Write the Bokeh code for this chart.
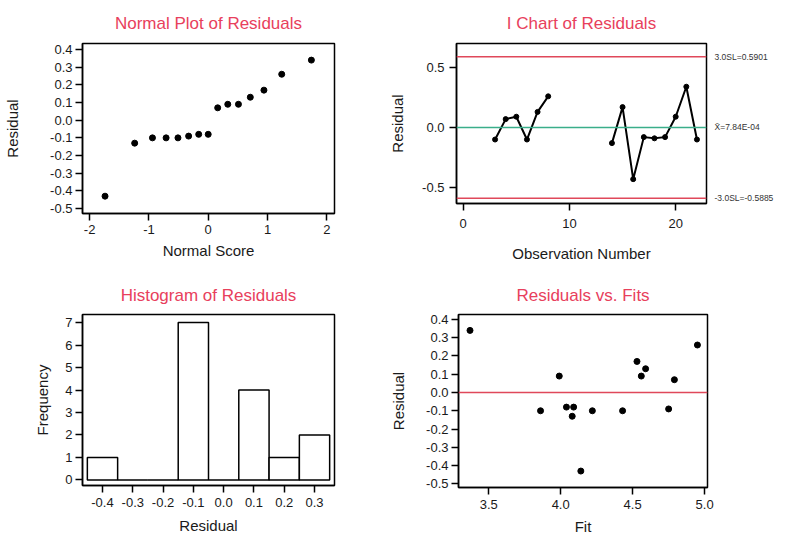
from bokeh.plotting import figure
from bokeh.layouts import row, column
from bokeh.models import Range1d, FixedTicker, LinearAxis, Span, PrintfTickFormatter, ColumnDataSource
from bokeh.embed import file_html
from bokeh.resources import INLINE

nan = float("nan")

# ---------------- data ----------------
# Normal plot of residuals
normal_scores = [-1.74, -1.24, -0.94, -0.71, -0.51, -0.33, -0.16, 0.0,
                 0.16, 0.33, 0.51, 0.71, 0.94, 1.24, 1.74]
sorted_residuals = [-0.43, -0.13, -0.10, -0.10, -0.10, -0.09, -0.08, -0.08,
                    0.07, 0.09, 0.09, 0.13, 0.17, 0.26, 0.34]

# I chart of residuals
obs_number = [1, 2, 3, 4, 5, 6, 7, 8, 9, 10, 11, 12, 13, 14, 15, 16, 17, 18, 19, 20, 21, 22]
obs_residual = [nan, nan, -0.10, 0.07, 0.09, -0.10, 0.13, 0.26, nan, nan, nan, nan, nan,
                -0.13, 0.17, -0.43, -0.08, -0.09, -0.08, 0.09, 0.34, -0.10]
ucl = 0.5901
center = 7.84e-4
lcl = -0.5885
limit_labels = {ucl: "3.0SL=0.5901", center: "X\u0304=7.84E-04", lcl: "-3.0SL=-0.5885"}

# Histogram of residuals
bin_midpoints = [-0.4, -0.3, -0.2, -0.1, 0.0, 0.1, 0.2, 0.3]
frequencies = [1, 0, 0, 7, 0, 4, 1, 2]
bin_width = 0.1

# Residuals vs fits
fit_values = [3.37, 3.86, 3.99, 4.04, 4.08, 4.09, 4.14, 4.22, 4.43, 4.53, 4.56, 4.59, 4.75, 4.79, 4.95]
fit_residuals = [0.34, -0.10, 0.09, -0.08, -0.13, -0.08, -0.43, -0.10, -0.10, 0.17, 0.09, 0.13,
                 -0.09, 0.07, 0.26]

# tick lists
resid_ticks = [-0.5, -0.4, -0.3, -0.2, -0.1, 0.0, 0.1, 0.2, 0.3, 0.4]
normal_ticks = [-2, -1, 0, 1, 2]
ichart_yticks = [-0.5, 0.0, 0.5]
ichart_xticks = [0, 10, 20]
hist_yticks = [0, 1, 2, 3, 4, 5, 6, 7]
hist_xticks = [-0.4, -0.3, -0.2, -0.1, 0.0, 0.1, 0.2, 0.3]
fit_ticks = [3.5, 4.0, 4.5, 5.0]

# ---------------- style ----------------
FONT = "Liberation Sans"
TITLE_COLOR = "#e8405c"
RED = "#e0485a"
GREEN = "#3aae8a"
TXT = "#1a1a1a"


def make_fig(title, frame, borders, xr, yr, xlabel, ylabel, xticks, yticks,
             xfmt, yfmt, xstand, ystand, title_standoff):
    p = figure(frame_width=frame[0], frame_height=frame[1],
               x_range=Range1d(*xr), y_range=Range1d(*yr),
               output_backend="svg", toolbar_location=None,
               min_border_left=borders[0], min_border_right=borders[1],
               min_border_top=borders[2], min_border_bottom=borders[3])
    p.title.text = title
    p.title.align = "center"
    p.title.text_color = TITLE_COLOR
    p.title.text_font = FONT
    p.title.text_font_size = "17px"
    p.title.text_font_style = "normal"
    p.title.standoff = title_standoff
    p.grid.visible = False
    p.outline_line_color = "black"
    p.outline_line_width = 1.5
    p.background_fill_color = "white"
    p.border_fill_color = "white"
    p.xaxis.ticker = FixedTicker(ticks=xticks)
    p.yaxis.ticker = FixedTicker(ticks=yticks)
    p.xaxis.formatter = PrintfTickFormatter(format=xfmt)
    p.yaxis.formatter = PrintfTickFormatter(format=yfmt)
    p.xaxis.axis_label = xlabel
    p.yaxis.axis_label = ylabel
    p.xaxis.major_label_standoff = xstand[0]
    p.xaxis.axis_label_standoff = xstand[1]
    p.yaxis.major_label_standoff = ystand[0]
    p.yaxis.axis_label_standoff = ystand[1]
    for ax in p.axis:
        ax.major_tick_out = 7
        ax.major_tick_in = 0
        ax.minor_tick_out = 0
        ax.minor_tick_in = 0
        ax.axis_line_color = "black"
        ax.axis_line_width = 1.5
        ax.major_tick_line_width = 1.5
        ax.major_tick_line_color = "black"
        ax.major_label_text_font = FONT
        ax.major_label_text_font_size = "13px"
        ax.major_label_text_color = TXT
        ax.axis_label_text_font = FONT
        ax.axis_label_text_font_size = "15px"
        ax.axis_label_text_font_style = "normal"
        ax.axis_label_text_color = TXT
    return p


# Normal plot
p1 = make_fig("Normal Plot of Residuals", (252, 170), (82, 30, 43, 55),
              (-2.12, 2.13), (-0.528, 0.434), "Normal Score", "Residual",
              normal_ticks, resid_ticks, "%d", "%.1f", (4, 5), (3, 26), 22)
p1.scatter(normal_scores, sorted_residuals, size=6, color="black")

# I chart
p2 = make_fig("I Chart of Residuals", (250, 160), (92, 80, 43, 65),
              (-0.63, 22.9), (-0.633, 0.70), "Observation Number", "Residual",
              ichart_xticks, ichart_yticks, "%d", "%.1f", (8, 14), (5, 13), 22)
for v, c in [(ucl, RED), (lcl, RED), (center, GREEN)]:
    p2.add_layout(Span(location=v, dimension="width", line_color=c, line_width=1.5))
src2 = ColumnDataSource(dict(x=obs_number, y=obs_residual))
p2.line("x", "y", source=src2, line_color="black", line_width=2)
p2.scatter("x", "y", source=src2, size=5, color="black")
rax = LinearAxis(ticker=FixedTicker(ticks=[ucl, center, lcl]),
                 major_label_overrides=limit_labels)
rax.axis_line_color = None
rax.major_tick_out = 0
rax.major_tick_in = 0
rax.minor_tick_out = 0
rax.minor_tick_in = 0
rax.major_label_standoff = 8
rax.major_label_text_font = FONT
rax.major_label_text_font_size = "8.5px"
rax.major_label_text_color = "#333333"
p2.add_layout(rax, "right")

# Histogram
p3 = make_fig("Histogram of Residuals", (252, 171), (82, 30, 46, 50),
              (-0.466, 0.366), (-0.25, 7.36), "Residual", "Frequency",
              hist_xticks, hist_yticks, "%.1f", "%d", (5, 7), (3, 11), 20)
lefts = [m - bin_width / 2 for m in bin_midpoints]
rights = [m + bin_width / 2 for m in bin_midpoints]
p3.quad(left=lefts, right=rights, bottom=0, top=frequencies,
        fill_color="white", line_color="black", line_width=1.5)

# Residuals vs fits
p4 = make_fig("Residuals vs. Fits", (249, 173), (94, 79, 45, 49),
              (3.29, 5.02), (-0.52, 0.427), "Fit", "Residual",
              fit_ticks, resid_ticks, "%.1f", "%.1f", (5, 6), (3, 16), 20)
p4.add_layout(Span(location=0, dimension="width", line_color=RED, line_width=1.5))
p4.scatter(fit_values, fit_residuals, size=6, color="black")

layout = column(row(p1, p2), row(p3, p4))
open("out.html", "w").write(file_html(layout, INLINE))
